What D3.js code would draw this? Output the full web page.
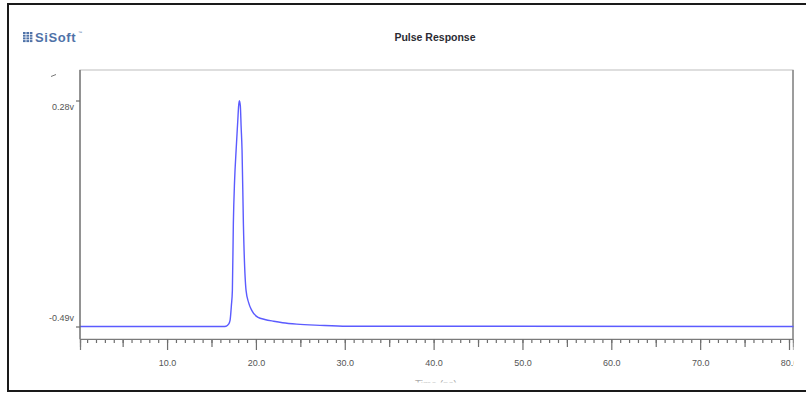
<!DOCTYPE html>
<html>
<head>
<meta charset="utf-8">
<script src="https://cdn.jsdelivr.net/npm/d3@7"></script>
<style>
    body { margin: 0; background: #fff; }
    svg { display: block; font-family: "Liberation Sans", Arial, sans-serif; }
</style>
</head>
<body>
<svg id="chart" width="806" height="393"></svg>
<script>
// pulse response samples (time, volts)
const timeNs = [0.2, 16.3, 16.64, 16.92, 17.09, 17.24, 17.35, 17.46, 17.6, 17.77, 17.96, 18.05, 18.14,
    18.25, 18.33, 18.44, 18.59, 18.89, 19.17, 19.53, 20.24, 21.0, 22.0, 23.0, 24.6, 27.2, 30.26, 80.5]
const voltage = [-0.49, -0.49, -0.489, -0.482, -0.469, -0.418, -0.367, -0.139, 0.007, 0.11, 0.212, 0.26, 0.279,
    0.26, 0.195, 0.11, -0.139, -0.367, -0.408, -0.435, -0.459, -0.466, -0.472, -0.477, -0.482, -0.486, -0.489, -0.49]
const yTicks = [0.28, -0.49]
const yTickLabels = ["0.28v", "-0.49v"]
const xLabelTicks = [10, 20, 30, 40, 50, 60, 70, 80]

const svg = d3.select("#chart")
const box = {left: 80, top: 70, right: 793, bottom: 339}

const x = d3.scaleLinear().domain([0.2, 80.45]).range([box.left, box.right])
const y = d3.scaleLinear().domain([-0.49, 0.28]).range([326.5, 100.5])

// outer document frame
svg.append("path")
    .attr("d", "M806,4 H8 V391 H806")
    .attr("fill", "none")
    .attr("stroke", "#1a1a1a")
    .attr("stroke-width", 2)

// logo
const logo = svg.append("g").attr("transform", "translate(23,32)")
d3.range(3).forEach(col => d3.range(4).forEach(row => {
    logo.append("rect")
        .attr("x", col * 3.4)
        .attr("y", row * 2.7)
        .attr("width", 2.6)
        .attr("height", 2)
        .attr("fill", "#4f72a8")
}))
svg.append("text")
    .attr("x", 35)
    .attr("y", 41.5)
    .text("SiSoft")
    .style("font-size", "13px")
    .style("font-weight", "bold")
    .style("letter-spacing", "0.6px")
    .style("fill", "#4f72a8")
svg.append("text")
    .attr("x", 78)
    .attr("y", 34)
    .text("™")
    .style("font-size", "4px")
    .style("fill", "#4f72a8")

// title
svg.append("text")
    .attr("x", 435)
    .attr("y", 40.5)
    .attr("text-anchor", "middle")
    .text("Pulse Response")
    .style("font-size", "10.5px")
    .style("font-weight", "bold")
    .style("fill", "#2b2b33")

// stray mark left of the axis
svg.append("line")
    .attr("x1", 51).attr("y1", 76.5).attr("x2", 56).attr("y2", 74.5)
    .attr("stroke", "#777").attr("stroke-width", 1)

// plot frame
svg.append("rect")
    .attr("x", box.left)
    .attr("y", box.top)
    .attr("width", box.right - box.left)
    .attr("height", box.bottom - box.top)
    .attr("fill", "#fff")
    .attr("stroke", "#c9c9c9")
    .attr("stroke-width", 1.2)
svg.append("line")
    .attr("x1", box.right).attr("y1", box.top).attr("x2", box.right).attr("y2", box.bottom)
    .attr("stroke", "#8c8c8c").attr("stroke-width", 1.6)

// curve
svg.append("path")
    .datum(timeNs.map((t, i) => [t, voltage[i]]))
    .attr("fill", "none")
    .attr("stroke", "#5b5bff")
    .attr("stroke-width", 1.4)
    .attr("stroke-linejoin", "round")
    .attr("d", d3.line().x(d => x(d[0])).y(d => y(d[1])).curve(d3.curveMonotoneX))

// x axis: minor, medium and major ticks
const xClip = svg.append("clipPath").attr("id", "xclip")
xClip.append("rect").attr("x", 0).attr("y", 0).attr("width", 793.5).attr("height", 393)

function tickAxis(values, size, withLabels) {
    const g = svg.append("g")
        .attr("transform", `translate(0,${box.bottom})`)
        .attr("clip-path", "url(#xclip)")
        .call(d3.axisBottom(x)
            .tickValues(values)
            .tickSize(size)
            .tickPadding(11 - size + 10)
            .tickFormat(withLabels ? d3.format(".1f") : ""))
    g.select(".domain").attr("stroke", "#7a7a7a").attr("stroke-width", 1.2)
    g.selectAll(".tick line").attr("stroke", "#6e6e6e").attr("stroke-width", 1.2)
    g.selectAll(".tick text")
        .style("font-size", "9px")
        .style("fill", "#555")
        .attr("dy", "0.71em")
    return g
}
tickAxis(d3.range(1, 81), 4, false)
tickAxis(d3.range(5, 81, 10), 8, false)
tickAxis(xLabelTicks, 11, true)

// y axis
const yAxis = svg.append("g")
    .attr("transform", `translate(${box.left},0)`)
    .call(d3.axisLeft(y).tickValues(yTicks).tickSize(4).tickPadding(2)
        .tickFormat((d, i) => yTickLabels[i]))
yAxis.select(".domain").remove()
yAxis.append("line")
    .attr("x1", 0).attr("y1", box.top).attr("x2", 0).attr("y2", box.bottom)
    .attr("stroke", "#6a6a6a").attr("stroke-width", 1.3)
yAxis.selectAll(".tick line").attr("stroke", "#6e6e6e").attr("stroke-width", 1.2)
yAxis.selectAll(".tick text")
    .style("font-size", "9px")
    .style("fill", "#555")
    .attr("dy", (d, i) => i === 0 ? "0.95em" : "-0.62em")

// x axis title, cut off by the bottom of the screenshot
const tClip = svg.append("clipPath").attr("id", "tclip")
tClip.append("rect").attr("x", 0).attr("y", 0).attr("width", 806).attr("height", 382.5)
svg.append("text")
    .attr("x", 436)
    .attr("y", 388)
    .attr("text-anchor", "middle")
    .attr("clip-path", "url(#tclip)")
    .text("Time (ns)")
    .style("font-size", "10px")
    .style("fill", "#aaa")
</script>
</body>
</html>
